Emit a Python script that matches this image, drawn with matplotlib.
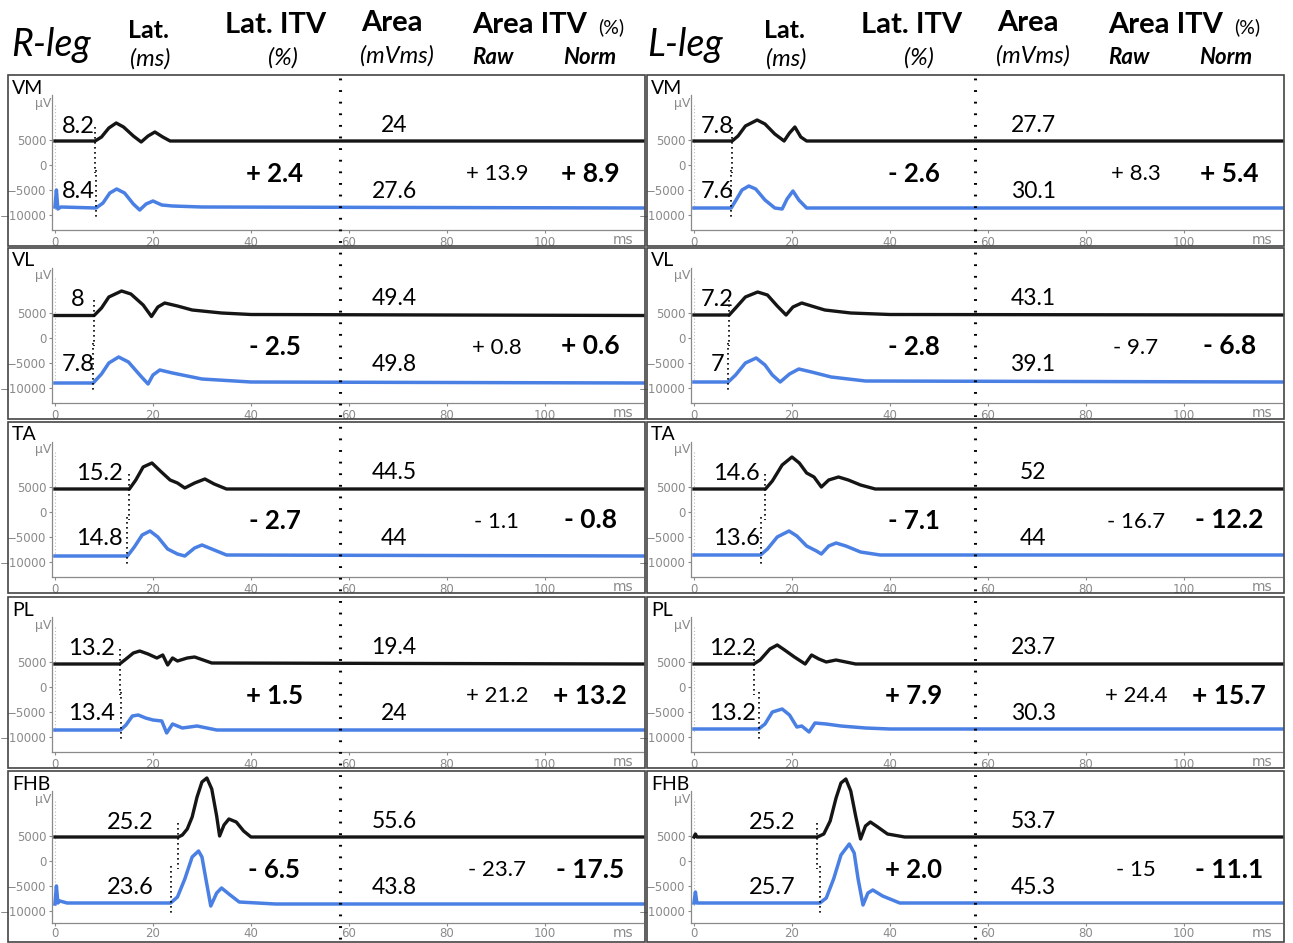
import matplotlib
matplotlib.use("Agg")
import matplotlib.pyplot as plt
from matplotlib.lines import Line2D
from matplotlib.patches import Rectangle

W, H = 1293, 943
FONT = ["Lato", "DejaVu Sans"]
BLUE = "#4a7fe3"
GRAY = "#8a8a8a"

muscles = ["VM", "VL", "TA", "PL", "FHB"]

# latency (ms), pre = black trace, post = blue trace
r_lat_pre = [8.2, 8, 15.2, 13.2, 25.2]
r_lat_post = [8.4, 7.8, 14.8, 13.4, 23.6]
l_lat_pre = [7.8, 7.2, 14.6, 12.2, 25.2]
l_lat_post = [7.6, 7, 13.6, 13.2, 25.7]

# latency ITV (%)
r_lat_itv = [2.4, -2.5, -2.7, 1.5, -6.5]
l_lat_itv = [-2.6, -2.8, -7.1, 7.9, 2.0]

# area (mVms)
r_area_pre = [24, 49.4, 44.5, 19.4, 55.6]
r_area_post = [27.6, 49.8, 44, 24, 43.8]
l_area_pre = [27.7, 43.1, 52, 23.7, 53.7]
l_area_post = [30.1, 39.1, 44, 30.3, 45.3]

# area ITV (%)
r_area_raw = [13.9, 0.8, -1.1, 21.2, -23.7]
r_area_norm = [8.9, 0.6, -0.8, 13.2, -17.5]
l_area_raw = [8.3, -9.7, -16.7, 24.4, -15]
l_area_norm = [5.4, -6.8, -12.2, 15.7, -11.1]

# MEP traces: (time ms, amplitude uV) vertices
r_pre = {
    "VM": ([0, 8.2, 9.5, 11, 12.5, 14, 16, 17.6, 19, 20.4, 22, 23.5, 120],
           [4800, 4800, 5600, 7400, 8400, 7600, 5800, 4600, 5800, 6600, 5600, 4800, 4800]),
    "VL": ([0, 8, 9.5, 11, 13.6, 15.5, 18, 19.7, 21, 22.4, 25, 28, 34, 40, 120],
           [4500, 4500, 6000, 8200, 9400, 8800, 6600, 4300, 6200, 7000, 6400, 5600, 5000, 4700, 4500]),
    "TA": ([0, 15.2, 16.5, 18, 19.8, 21.5, 23.5, 25, 26.5, 28.5, 30.6, 32.5, 35, 120],
           [4600, 4600, 6400, 9000, 9800, 8200, 6400, 5800, 4800, 5800, 6600, 5600, 4600, 4600]),
    "PL": ([0, 13.2, 14.5, 16, 17.3, 19, 20.8, 22, 23, 24, 25, 27, 28.5, 32, 120],
           [4600, 4600, 5600, 6800, 7200, 6600, 5800, 6400, 4400, 5800, 5200, 5800, 6000, 4800, 4600]),
    "FHB": ([0, 25.2, 26, 27, 28, 29, 30, 31, 32, 33, 33.6, 34.5, 35.5, 37, 38.5, 40, 120],
            [4800, 4800, 5200, 6400, 8800, 12800, 15800, 16600, 14400, 9000, 5000, 7200, 8400, 7800, 6000, 4800, 4800]),
}
r_post = {
    "VM": ([0, 0.3, 0.6, 1.2, 8.4, 9.8, 11.2, 12.6, 14.2, 16, 17.3, 18.6, 20, 21.8, 24, 30, 120],
           [-8400, -5000, -8800, -8400, -8600, -7600, -5600, -4800, -5600, -7800, -9000, -7800, -7200, -8000, -8200, -8400, -8600]),
    "VL": ([0, 7.8, 9.5, 11, 13, 15, 17.5, 19, 20, 21.4, 24, 30, 40, 120],
           [-9000, -9000, -7200, -5000, -3800, -4800, -7600, -9200, -7400, -6400, -7000, -8200, -8800, -9000]),
    "TA": ([0, 14.8, 16.2, 17.8, 19.4, 21, 23, 25, 26.5, 28.5, 30, 32, 35, 120],
           [-8800, -8800, -7000, -4600, -3800, -5000, -7400, -8400, -8800, -7200, -6600, -7400, -8600, -8800]),
    "PL": ([0, 13.4, 14.5, 15.8, 17, 18.5, 20, 21.8, 22.8, 24, 26, 29, 33, 120],
           [-8600, -8600, -7600, -5800, -5600, -6200, -6600, -6800, -9200, -7400, -8200, -7800, -8600, -8600]),
    "FHB": ([0, 0.3, 0.6, 1, 2.5, 23.6, 25, 26.5, 28, 29.3, 30, 30.8, 31.8, 33, 34, 35.5, 37.6, 45, 120],
            [-8600, -5000, -8400, -8000, -8400, -8400, -7200, -3600, 800, 2000, 800, -3600, -9000, -6400, -5400, -6600, -8200, -8600, -8600]),
}
l_pre = {
    "VM": ([0, 7.8, 9, 10.5, 12.9, 14.5, 16.5, 18.4, 19.5, 20.6, 21.8, 23, 120],
           [4800, 4800, 5800, 7800, 9000, 8200, 6200, 4800, 6400, 7600, 5600, 4800, 4800]),
    "VL": ([0, 7.2, 8.5, 10.5, 13, 15, 17, 18.8, 20.2, 22, 24, 26.7, 32, 40, 120],
           [4600, 4600, 6000, 8200, 9200, 8600, 6400, 4600, 6200, 7000, 6400, 5600, 5000, 4700, 4600]),
    "TA": ([0, 14.6, 16, 18, 20, 21.5, 23, 24.5, 26, 27.5, 29.5, 31.5, 34, 37, 120],
           [4600, 4600, 6200, 9400, 11000, 9800, 7800, 7000, 5000, 6400, 7000, 6400, 5400, 4600, 4600]),
    "PL": ([0, 12.2, 13.5, 15.5, 17, 18.5, 20.5, 22.7, 24, 25.5, 27, 29, 31, 33, 120],
           [4600, 4600, 5400, 7600, 8400, 7400, 6000, 4600, 6400, 5600, 5000, 5400, 5000, 4600, 4600]),
    "FHB": ([0, 0.3, 0.6, 25.2, 26.5, 27.8, 29, 30, 31, 32, 33, 34, 35, 36, 37.5, 39.5, 43, 120],
            [4800, 5400, 4800, 4800, 5400, 8000, 12600, 15600, 16400, 14000, 9000, 4400, 7000, 7800, 6800, 5400, 4800, 4800]),
}
l_post = {
    "VM": ([0, 7.6, 8.6, 9.8, 11.2, 12.6, 14.5, 16.5, 18, 19, 20.2, 21.4, 23, 120],
           [-8600, -8600, -7000, -5000, -4200, -4800, -7000, -8600, -8800, -6800, -5200, -7000, -8600, -8600]),
    "VL": ([0, 7, 8.5, 10.5, 12.7, 14.5, 16, 17.6, 19.5, 21.4, 24, 28, 35, 120],
           [-8800, -8800, -7400, -5000, -4000, -5400, -7400, -8800, -7200, -6200, -6800, -7800, -8600, -8800]),
    "TA": ([0, 13.6, 15, 17, 19.4, 21, 23, 25, 26, 27.5, 29, 31, 34, 38, 120],
           [-8600, -8600, -7400, -5000, -3800, -4800, -6800, -7800, -8400, -6800, -6200, -6800, -8000, -8600, -8600]),
    "PL": ([0, 13.2, 14.5, 16, 18, 19.5, 21, 22, 23.5, 24.7, 27, 30, 35, 40, 120],
           [-8400, -8400, -7400, -5000, -4400, -5600, -8000, -7800, -9000, -7200, -7400, -7800, -8200, -8400, -8400]),
    "FHB": ([0, 0.3, 0.6, 25.7, 27, 28.5, 30, 31.7, 32.7, 33.5, 34.5, 35.5, 36.5, 38.5, 42, 120],
            [-8400, -6200, -8400, -8400, -7400, -3600, 1200, 3400, 1600, -3600, -8800, -6400, -5800, -7000, -8400, -8400]),
}

# layout (pixels)
row_tops = [75, 248, 422, 597, 771]
row_h = 171
lat_text_x = {"R": [4.7, 4.7, 9, 7.5, 15.3], "L": [4.8, 4.8, 8.6, 7.8, 16]}


def signed(v, fmt):
    return ("+ " if v >= 0 else "- ") + format(abs(v), fmt)


def fig_box(x0, y0, x1, y1):
    return [x0 / W, 1 - y1 / H, (x1 - x0) / W, (y1 - y0) / H]


fig = plt.figure(figsize=(W / 100, H / 100), dpi=100)
fig.patch.set_facecolor("white")


def ftext(x, y, s, size, weight="normal", style="normal", ha="center"):
    fig.text(x / W, 1 - y / H, s, fontsize=size, fontweight=weight, fontstyle=style,
             ha=ha, va="center", family=FONT)


def headers(x_off, leg):
    ftext(11 + x_off, 45, leg, 27, style="italic", ha="left")
    ftext(148 + x_off, 30, "Lat.", 18, weight="bold")
    ftext(150 + x_off, 59, "(ms)", 17, style="italic")
    ftext(276 + x_off, 25, "Lat. ITV", 21, weight="bold")
    ftext(283 + x_off, 58, "(%)", 17, style="italic")
    ftext(392 + x_off, 23, "Area", 21, weight="bold")
    ftext(397 + x_off, 56, "(mVms)", 17, style="italic")
    ftext(530 + x_off, 25, "Area ITV", 21, weight="bold")
    ftext(611 + x_off, 27, "(%)", 14)
    ftext(493 + x_off, 58, "Raw", 16, weight="bold", style="italic")
    ftext(590 + x_off, 58, "Norm", 16, weight="bold", style="italic")


def panel(col_x, i, name, pre, post, lat_pre, lat_post, lat_itv,
          area_pre, area_post, raw, norm, lat_x):
    top = row_tops[i]
    last = i == len(row_tops) - 1
    bottom = 942 if last else top + row_h
    fig.add_artist(Rectangle((col_x[0] / W, 1 - bottom / H), (col_x[1] - col_x[0]) / W,
                             (bottom - top) / H, transform=fig.transFigure,
                             fill=False, edgecolor="#444444", lw=1.2))
    ax_bottom = top + (152 if last else 155)
    ax = fig.add_axes(fig_box(col_x[0] + 44, top + 4, col_x[0] + 635, ax_bottom))
    ax.set_facecolor("none")
    ax.set_xlim(-0.6, 120)
    ax.set_ylim(5000 - (ax_bottom - top - 65) * 200, 17200)
    for s in ["top", "right"]:
        ax.spines[s].set_visible(False)
    for s in ["left", "bottom"]:
        ax.spines[s].set_color(GRAY)
        ax.spines[s].set_linewidth(0.9)
    ax.spines["left"].set_bounds(ax.get_ylim()[0], 14000)
    ax.set_xticks([0, 20, 40, 60, 80, 100])
    ax.set_yticks([5000, 0, -5000, -10000])
    ax.tick_params(colors=GRAY, labelsize=8.5, length=2, pad=2)
    ax.tick_params(axis="x", pad=1 if last else 2)
    ax.text(-0.8, 12400, "\u00b5V", fontsize=9, color=GRAY, ha="right", va="center")
    ax.annotate("ms", xy=(116, 0), xycoords=("data", "axes fraction"), xytext=(0, -7),
                textcoords="offset points", fontsize=10, color=GRAY, ha="center", va="center")
    ax.text(-8.8, 15400, name, fontsize=14, ha="left", va="center", family=FONT, clip_on=False)

    ax.plot([0, 0], [12000, -9000], color="#bbbbbb", lw=0.8, ls=(0, (1, 2)))
    ax.plot(*pre, color="#151515", lw=2.4, solid_joinstyle="round", clip_on=False)
    ax.plot(*post, color=BLUE, lw=2.5, solid_joinstyle="round", clip_on=False)

    # latency markers
    ax.plot([lat_pre, lat_pre], [7600, -1600], color="black", lw=1.2, ls=(0, (1, 2)))
    ax.plot([lat_post, lat_post], [-1000, -10800], color="black", lw=1.2, ls=(0, (1, 2)))
    ax.text(lat_x, 7700, format(lat_pre, "g"), fontsize=17, ha="center", va="center", family=FONT)
    ax.text(lat_x, -5300, format(lat_post, "g"), fontsize=17, ha="center", va="center", family=FONT)

    ax.text(44.8, -1800, signed(lat_itv, ".1f"), fontsize=18.5, fontweight="bold",
            ha="center", va="center", family=FONT)
    ax.text(69.2, 7900, format(area_pre, "g"), fontsize=16.5, ha="center", va="center", family=FONT)
    ax.text(69.2, -5300, format(area_post, "g"), fontsize=16.5, ha="center", va="center", family=FONT)
    ax.text(90.2, -1900, signed(raw, "g"), fontsize=16, ha="center", va="center", family=FONT)
    ax.text(109.2, -1700, signed(norm, "g"), fontsize=19, fontweight="bold",
            ha="center", va="center", family=FONT)


headers(0, "R-leg")
headers(636, "L-leg")

for i, m in enumerate(muscles):
    panel((8, 645), i, m, r_pre[m], r_post[m], r_lat_pre[i], r_lat_post[i], r_lat_itv[i],
          r_area_pre[i], r_area_post[i], r_area_raw[i], r_area_norm[i], lat_text_x["R"][i])
    panel((647, 1284), i, m, l_pre[m], l_post[m], l_lat_pre[i], l_lat_post[i], l_lat_itv[i],
          l_area_pre[i], l_area_post[i], l_area_raw[i], l_area_norm[i], lat_text_x["L"][i])

# long dotted separators between latency and area columns
for xp in (340, 975):
    fig.add_artist(Line2D([xp / W, xp / W], [1 - 78 / H, 0], transform=fig.transFigure,
                          color="black", lw=2.2, ls=(0, (0.6, 3.2)), zorder=10))

fig.savefig("out.png", dpi=100, facecolor="white")
